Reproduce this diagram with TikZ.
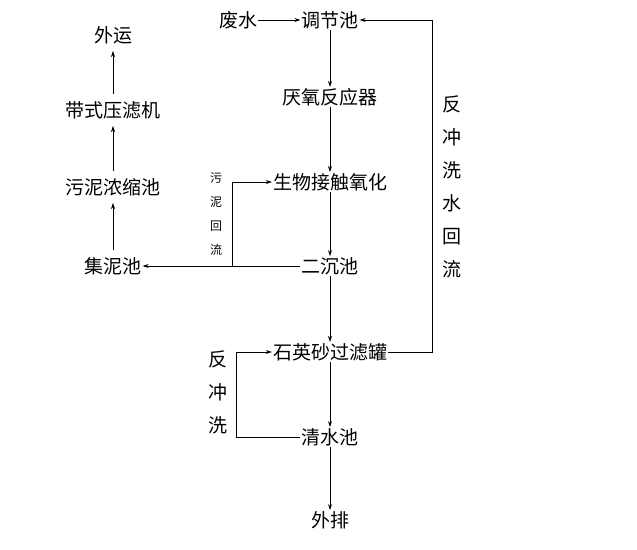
\documentclass[tikz,border=0pt]{standalone}
\usepackage{fontspec}
\setmainfont{Noto Sans CJK SC}
\usetikzlibrary{arrows.meta}
\begin{document}
\begin{tikzpicture}[x=1pt,y=-1pt,
  box/.style={inner sep=1pt,font=\fontsize{19}{21}\selectfont},
  small/.style={font=\fontsize{12}{24}\selectfont,align=center},
  mid/.style={font=\fontsize{19}{33}\selectfont,align=center},
  ln/.style={line width=0.7pt},
  ar/.style={line width=0.7pt,-{Stealth[length=6pt,width=4pt]}},
  sar/.style={ar,shorten <=6pt,shorten >=6pt}]
\useasboundingbox (0,0) rectangle (637,549);
\node[box] (fs) at (238,20) {废水};
\node[box] (tj) at (330,20) {调节池};
\node[box] (yy) at (330,97) {厌氧反应器};
\node[box] (sw) at (330,182) {生物接触氧化};
\node[box] (ec) at (330,266) {二沉池};
\node[box] (sy) at (330,352) {石英砂过滤罐};
\node[box] (qs) at (330,437) {清水池};
\node[box] (wp) at (330,520) {外排};
\node[box] (wy) at (113,35) {外运};
\node[box] (dy) at (113,110) {带式压滤机};
\node[box] (wn) at (113,187) {污泥浓缩池};
\node[box] (jn) at (113,266) {集泥池};
\draw[ar] (fs) -- (tj);
\draw[ar] (tj) -- (yy);
\draw[ar] (yy) -- (sw);
\draw[ar] (sw) -- (ec);
\draw[ar] (ec) -- (sy);
\draw[ar] (sy) -- (qs);
\draw[ar] (qs) -- (wp);
\draw[sar] (jn) -- (wn);
\draw[sar] (wn) -- (dy);
\draw[sar] (dy) -- (wy);
\draw[ar] (ec) -- (jn);
\coordinate (r1) at (432,352);
\coordinate (r2) at (432,20);
\draw[ar] (sy.east) -- (r1) -- (r2) -- (tj.east);
\coordinate (s1) at (232,266);
\coordinate (s2) at (232,182);
\draw[ar] (s1) -- (s2) -- (sw.west);
\coordinate (b1) at (236,437);
\coordinate (b2) at (236,352);
\draw[ar] (qs.west) -- (b1) -- (b2) -- (sy.west);
\node[mid] (l1) at (452,187) {反\\冲\\洗\\水\\回\\流};
\node[small] (l2) at (216,214) {污\\泥\\回\\流};
\node[mid] (l3) at (218,392) {反\\冲\\洗};
\end{tikzpicture}
\end{document}
